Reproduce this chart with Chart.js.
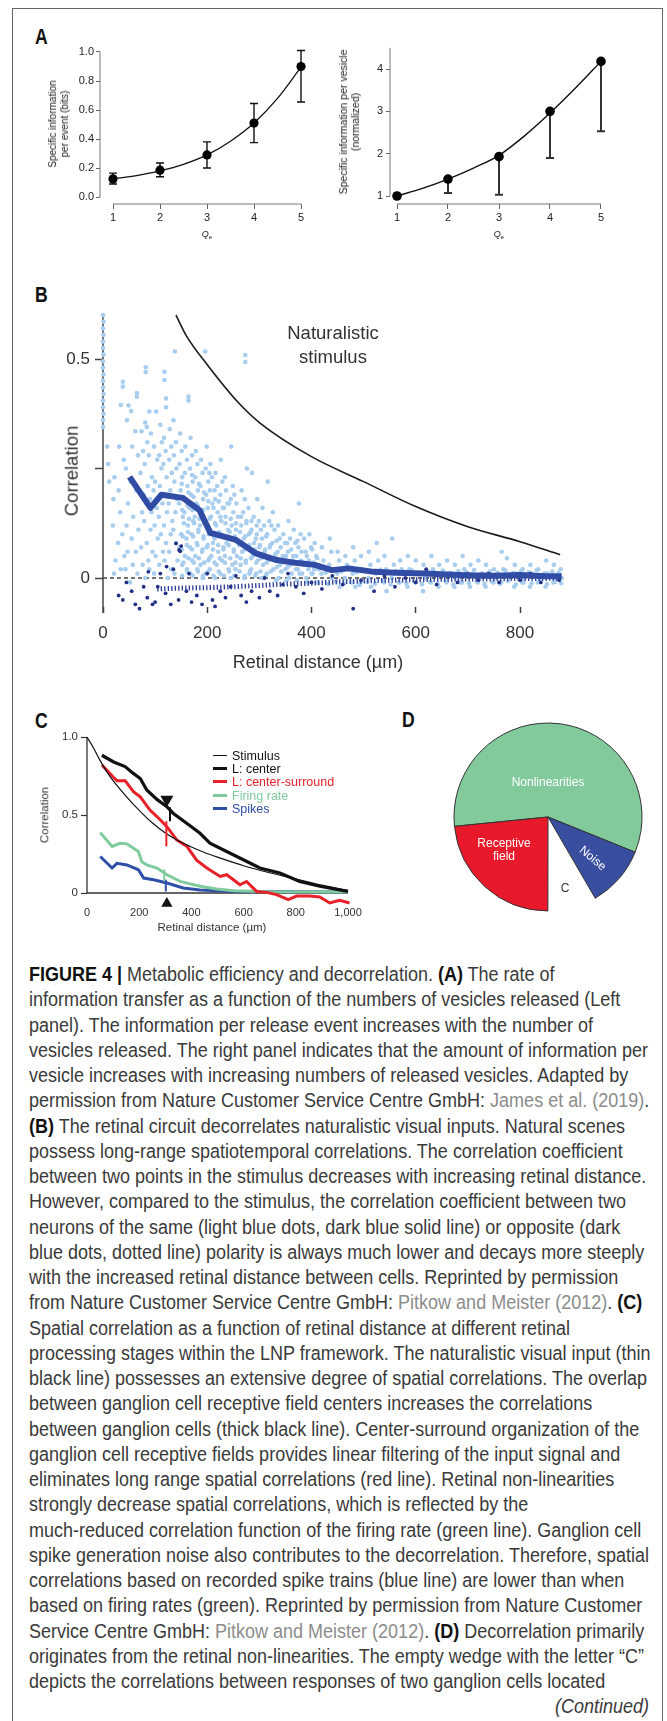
<!DOCTYPE html>
<html>
<head>
<meta charset="utf-8">
<script src="https://cdn.jsdelivr.net/npm/chart.js@4.4.1/dist/chart.umd.min.js"></script>
<style>
  body { margin: 0; background: #fff; }
  #page { position: relative; width: 667px; height: 1721px; overflow: hidden; font-family: "Liberation Sans", Arial, sans-serif; color: #222; }
  #page canvas { position: absolute; }
  .frame { position: absolute; left: 12px; top: 8px; width: 651px; height: 1760px; border: 1.5px solid #666; box-sizing: border-box; }
  .t { position: absolute; white-space: nowrap; line-height: 1; }
  .ctr { transform: translate(-50%, -50%); text-align: center; }
  .rot { transform: translate(-50%, -50%) rotate(-90deg); text-align: center; }
  .letter { position: absolute; font-family: "Liberation Sans", sans-serif; font-weight: bold; font-size: 22px; line-height: 1; color: #111; transform: scaleX(0.8); transform-origin: left top; }
  .leg { position: absolute; left: 213px; font-size: 12.5px; line-height: 1; white-space: nowrap; }
  .leg span.sw { display: inline-block; width: 14px; vertical-align: middle; margin-right: 5px; position: relative; top: -1px; }
  #caption { position: absolute; left: 29px; top: 962px; font-family: "Liberation Sans", sans-serif; font-size: 20px; line-height: 25.25px; color: #3a3a3a; white-space: nowrap; transform-origin: left top; }
  #caption b { color: #111; }
  .lk { color: #8c8c8c; }
</style>
</head>
<body>
<div id="page">
  <div class="frame"></div>

  <div class="letter" style="left:35px;top:26px;">A</div>
  <div class="letter" style="left:35px;top:284px;">B</div>
  <div class="letter" style="left:35px;top:710px;">C</div>
  <div class="letter" style="left:402px;top:709px;">D</div>

  <canvas id="aLeft"></canvas>
  <canvas id="aRight"></canvas>
  <canvas id="bChart"></canvas>
  <canvas id="cChart"></canvas>
  <canvas id="dChart"></canvas>

  <!-- panel A titles -->
  <div class="t rot" style="left:59px;top:124px;font-size:10px;line-height:12px;">Specific information<br>per event (bits)</div>
  <div class="t rot" style="left:349px;top:122px;font-size:10.5px;line-height:12px;">Specific information per vesicle<br>(normalized)</div>
  <div class="t ctr" style="left:207px;top:235px;font-size:9px;"><i>Q</i><sub style="font-size:6px">e</sub></div>
  <div class="t ctr" style="left:499px;top:235px;font-size:9px;"><i>Q</i><sub style="font-size:6px">e</sub></div>

  <!-- panel B titles -->
  <div class="t rot" style="left:72px;top:471px;font-size:18.5px;color:#333;">Correlation</div>
  <div class="t ctr" style="left:318px;top:662px;font-size:18px;color:#333;">Retinal distance (µm)</div>
  <div class="t ctr" style="left:333px;top:345px;font-size:18.5px;line-height:24px;color:#333;">Naturalistic<br>stimulus</div>

  <!-- panel C titles and legend -->
  <div class="t rot" style="left:45px;top:815px;font-size:11.5px;color:#333;">Correlation</div>
  <div class="t ctr" style="left:212px;top:928px;font-size:11.5px;color:#333;">Retinal distance (µm)</div>
  <div class="leg" style="top:750px;color:#111;"><span class="sw" style="border-top:1.5px solid #111"></span>Stimulus</div>
  <div class="leg" style="top:763px;color:#111;"><span class="sw" style="border-top:3px solid #111"></span>L: center</div>
  <div class="leg" style="top:776px;color:#e8202a;"><span class="sw" style="border-top:3px solid #e8202a"></span>L: center-surround</div>
  <div class="leg" style="top:790px;color:#7fcb9e;"><span class="sw" style="border-top:3px solid #7fcb9e"></span>Firing rate</div>
  <div class="leg" style="top:803px;color:#2f4ea8;"><span class="sw" style="border-top:3px solid #2f4ea8"></span>Spikes</div>

  <!-- panel D labels -->
  <div class="t ctr" style="left:548px;top:782px;font-size:12px;color:#fff;">Nonlinearities</div>
  <div class="t ctr" style="left:504px;top:850px;font-size:12px;line-height:13px;color:#fff;">Receptive<br>field</div>
  <div class="t" style="left:593px;top:858px;font-size:12px;color:#fff;transform:translate(-50%,-50%) rotate(40deg);">Noise</div>
  <div class="t ctr" style="left:565px;top:888px;font-size:12px;color:#333;">C</div>

  <div id="caption">
<div><b>FIGURE 4</b> <b>|</b> Metabolic efficiency and decorrelation. <b>(A)</b> The rate of</div>
<div>information transfer as a function of the numbers of vesicles released (Left</div>
<div>panel). The information per release event increases with the number of</div>
<div><span id="capRef">vesicles released. The right panel indicates that the amount of information per</span></div>
<div>vesicle increases with increasing numbers of released vesicles. Adapted by</div>
<div>permission from Nature Customer Service Centre GmbH: <span class="lk">James et al. (2019)</span>.</div>
<div><b>(B)</b> The retinal circuit decorrelates naturalistic visual inputs. Natural scenes</div>
<div>possess long-range spatiotemporal correlations. The correlation coefficient</div>
<div>between two points in the stimulus decreases with increasing retinal distance.</div>
<div>However, compared to the stimulus, the correlation coefficient between two</div>
<div>neurons of the same (light blue dots, dark blue solid line) or opposite (dark</div>
<div>blue dots, dotted line) polarity is always much lower and decays more steeply</div>
<div>with the increased retinal distance between cells. Reprinted by permission</div>
<div>from Nature Customer Service Centre GmbH: <span class="lk">Pitkow and Meister (2012)</span>. <b>(C)</b></div>
<div>Spatial correlation as a function of retinal distance at different retinal</div>
<div>processing stages within the LNP framework. The naturalistic visual input (thin</div>
<div>black line) possesses an extensive degree of spatial correlations. The overlap</div>
<div>between ganglion cell receptive field centers increases the correlations</div>
<div>between ganglion cells (thick black line). Center-surround organization of the</div>
<div>ganglion cell receptive fields provides linear filtering of the input signal and</div>
<div>eliminates long range spatial correlations (red line). Retinal non-linearities</div>
<div>strongly decrease spatial correlations, which is reflected by the</div>
<div>much-reduced correlation function of the firing rate (green line). Ganglion cell</div>
<div>spike generation noise also contributes to the decorrelation. Therefore, spatial</div>
<div>correlations based on recorded spike trains (blue line) are lower than when</div>
<div>based on firing rates (green). Reprinted by permission from Nature Customer</div>
<div>Service Centre GmbH: <span class="lk">Pitkow and Meister (2012)</span>. <b>(D)</b> Decorrelation primarily</div>
<div>originates from the retinal non-linearities. The empty wedge with the letter “C”</div>
<div>depicts the correlations between responses of two ganglion cells located</div>
<div id="capCont" style="text-align:right;width:620px;font-style:italic;">(Continued)</div>
  </div>
</div>

<script>
// ---- panel A: information vs number of released vesicles (Qe)
const qe = [1, 2, 3, 4, 5];
const infoEvent = [0.125, 0.185, 0.29, 0.51, 0.90];
const infoEventLow = [0.09, 0.14, 0.20, 0.375, 0.655];
const infoEventHigh = [0.165, 0.235, 0.38, 0.645, 1.01];
const fitQe = [1, 1.5, 2, 2.5, 3, 3.5, 4, 4.5, 5];
const fitEvent = [0.125, 0.148, 0.18, 0.225, 0.29, 0.385, 0.51, 0.68, 0.895];
const infoVesicle = [1.0, 1.4, 1.93, 3.0, 4.18];
const infoVesicleLow = [1.0, 1.07, 1.03, 1.9, 2.53];
const fitVesicle = [1.0, 1.18, 1.4, 1.66, 1.96, 2.42, 2.96, 3.55, 4.18];
const eventTicks = [0, 0.2, 0.4, 0.6, 0.8, 1.0];
const vesicleTicks = [1, 2, 3, 4];

// ---- panel B: correlation vs retinal distance (um)
const bDistTicks = [0, 200, 400, 600, 800];
const bCorrTicks = [0, 0.25, 0.5];
const stimDist = [140, 160, 200, 260, 300, 400, 500, 600, 700, 800, 877];
const stimCorr = [0.60, 0.553, 0.487, 0.40, 0.355, 0.277, 0.22, 0.163, 0.117, 0.083, 0.053];
const sameMeanDist = [51, 91, 112, 153, 185, 206, 255, 292, 333, 373, 406, 439, 471, 520, 560, 618, 660, 700, 750, 800, 850, 880];
const sameMean = [0.231, 0.16, 0.19, 0.183, 0.155, 0.103, 0.087, 0.057, 0.041, 0.034, 0.030, 0.018, 0.022, 0.014, 0.012, 0.010, 0.008, 0.006, 0.005, 0.007, 0.004, 0.004];
const oppMeanDist = [104, 150, 200, 250, 300, 350, 400, 450, 500, 550, 600, 650, 700, 750, 800, 850, 880];
const oppMean = [-0.025, -0.023, -0.022, -0.020, -0.017, -0.014, -0.012, -0.009, -0.007, -0.005, -0.004, -0.003, -0.002, -0.002, -0.001, -0.001, 0];
// light blue dots: same polarity pairs [distance, correlation]
const sameDots = [
  [0,.60],[1,.585],[0,.57],[1,.555],[0,.54],[0,.525],[1,.51],[0,.495],[0,.48],[1,.465],[0,.45],[0,.435],[1,.42],[0,.405],[0,.39],[1,.375],[0,.36],[0,.345],
  [8,.30],[12,.22],[10,.26],[20,.18],[22,.23],[19,.12],[24,.04],[21,.01],
  [30,.20],[33,.15],[29,.08],[31,.30],[34,.02],[38,.448],[38,.437],[40,.27],[37,.10],[41,.05],
  [34,.395],[46,.36],[44,.25],[48,.17],[45,.12],[47,.06],[43,.02],
  [49,.394],[54,.381],[56,.30],[53,.22],[58,.14],[55,.09],[57,.03],[52,-.01],
  [65,.422],[65,.414],[62,.335],[67,.28],[64,.20],[68,.11],[63,.06],[66,.01],
  [74,.335],[77,.29],[72,.24],[78,.19],[75,.15],[73,.07],[76,.03],
  [82,.481],[82,.47],[81,.355],[85,.31],[80,.26],[86,.21],[83,.17],[79,.13],[84,.08],[87,.04],[81,.00],
  [89,.38],[92,.33],[88,.28],[94,.23],[90,.18],[93,.15],[91,.11],[95,.06],[89,.02],
  [102,.38],[84,.345],[98,.30],[104,.27],[100,.22],[97,.20],[103,.16],[99,.12],[105,.09],[101,.05],[98,.01],
  [110,.35],[113,.31],[108,.28],[112,.25],[109,.21],[114,.17],[107,.14],[111,.10],[115,.06],[108,.03],
  [118,.471],[118,.452],[121,.41],[121,.39],[117,.32],[120,.29],[116,.26],[122,.23],[119,.19],[123,.15],[117,.12],[121,.08],[118,.04],[124,.00],
  [128,.34],[131,.30],[127,.27],[132,.24],[129,.20],[126,.17],[133,.13],[130,.10],[127,.06],[131,.02],
  [135,.36],[138,.517],[140,.31],[136,.28],[141,.25],[137,.22],[142,.18],[139,.15],[135,.11],[140,.08],[143,.04],[137,.01],
  [148,.33],[151,.29],[147,.26],[152,.23],[149,.20],[146,.17],[153,.14],[150,.10],[147,.07],[152,.03],
  [164,.414],[164,.405],[158,.30],[161,.27],[157,.24],[162,.21],[159,.18],[156,.15],[163,.12],[160,.09],[157,.05],[161,.02],
  [168,.32],[171,.28],[167,.25],[172,.22],[169,.19],[166,.16],[173,.13],[170,.10],[167,.07],[171,.04],[168,.01],
  [178,.29],[181,.26],[177,.23],[182,.20],[179,.17],[176,.14],[183,.11],[180,.08],[177,.05],[181,.02],
  [188,.27],[191,.24],[187,.21],[192,.18],[189,.15],[186,.12],[193,.09],[190,.06],[187,.03],[191,.00],
  [196,.517],[199,.30],[197,.25],[202,.22],[198,.19],[201,.16],[196,.13],[203,.10],[199,.07],[202,.04],[197,.01],
  [206,.26],[209,.23],[205,.20],[210,.17],[207,.14],[204,.11],[211,.08],[208,.05],[205,.02],
  [216,.24],[219,.21],[215,.18],[220,.15],[217,.12],[214,.09],[221,.06],[218,.03],[215,.00],
  [226,.27],[229,.22],[225,.19],[230,.16],[227,.13],[224,.10],[231,.07],[228,.04],[225,.01],
  [236,.20],[239,.17],[235,.14],[240,.11],[237,.08],[234,.05],[241,.02],
  [246,.30],[249,.21],[245,.18],[250,.15],[247,.12],[244,.09],[251,.06],[248,.03],[245,.00],
  [256,.17],[259,.14],[255,.11],[260,.08],[257,.05],[254,.02],
  [266,.20],[269,.15],[265,.12],[270,.09],[267,.06],[264,.03],[271,.00],[273,.509],[273,.493],
  [276,.25],[279,.16],[275,.13],[280,.10],[277,.07],[274,.04],[281,.01],
  [286,.24],[289,.14],[285,.11],[290,.08],[287,.05],[284,.02],
  [296,.18],[299,.13],[295,.10],[300,.07],[297,.04],[294,.01],
  [306,.16],[309,.12],[305,.09],[310,.06],[307,.03],[304,.00],
  [316,.22],[319,.13],[315,.10],[320,.07],[317,.04],[314,.01],
  [326,.15],[329,.11],[325,.08],[330,.05],[327,.02],
  [336,.12],[339,.09],[335,.06],[340,.03],[337,.00],
  [346,.10],[349,.08],[345,.05],[350,.02],
  [356,.13],[359,.09],[355,.06],[360,.03],[357,.00],
  [366,.11],[369,.08],[365,.05],[370,.02],
  [376,.17],[379,.10],[375,.07],[380,.04],[377,.01],
  [386,.09],[389,.06],[385,.03],[390,.00],
  [396,.10],[399,.07],[395,.04],[400,.01],
  [406,.08],[409,.05],[405,.02],[410,-.01],
  [420,.07],[423,.04],[419,.01],[435,.09],[438,.06],[434,.03],[439,.00],
  [450,.06],[453,.04],[449,.01],[454,-.02],[465,.05],[468,.03],[464,.00],
  [480,.07],[483,.04],[479,.01],[484,-.02],[495,.05],[498,.02],[494,-.01],
  [510,.06],[513,.03],[509,.00],[514,-.02],[525,.08],[528,.04],[524,.01],
  [540,.05],[543,.02],[539,-.01],[544,-.03],[555,.09],[558,.03],[554,.00],
  [570,.04],[573,.02],[569,-.01],[585,.05],[588,.02],[584,-.02],
  [600,.04],[603,.01],[599,-.01],[615,.03],[618,.00],[614,-.03],
  [630,.05],[633,.02],[629,-.01],[645,.03],[648,.01],[644,-.02],
  [660,.04],[663,.01],[659,-.01],[675,.03],[678,.00],[674,-.02],
  [690,.05],[693,.02],[689,-.01],[705,.03],[708,.01],[704,-.02],
  [720,.04],[723,.00],[719,-.01],[735,.03],[738,.01],[734,-.02],
  [750,.02],[753,.00],[749,-.01],[765,.06],[768,.02],[764,-.01],[775,.045],
  [790,.03],[793,.01],[789,-.02],[805,.02],[808,.00],[804,-.01],
  [820,.03],[823,.01],[819,-.02],[835,.02],[838,.00],[834,-.01],
  [850,.04],[853,.01],[849,-.02],[865,.03],[868,.00],[864,-.01],[878,.02],[880,.00]
];
// denser core of the same-polarity cloud and the band near zero
const sameDotsCore = [
  [152,.005],[154,.035],[151,.065],[153,.095],[155,.125],[152,.155],[154,.185],[151,.215],
  [162,.015],[164,.045],[161,.075],[163,.105],[165,.135],[162,.165],[164,.195],
  [172,.005],[174,.035],[171,.065],[173,.095],[175,.125],[172,.155],[174,.185],[171,.235],
  [182,.015],[184,.045],[181,.075],[183,.105],[185,.135],[182,.165],[184,.215],
  [192,.005],[194,.035],[191,.065],[193,.095],[195,.125],[192,.155],[194,.195],
  [202,.015],[204,.045],[201,.075],[203,.105],[205,.135],[202,.175],[204,.24],
  [212,.005],[214,.035],[211,.065],[213,.095],[215,.125],[212,.16],[214,.20],
  [222,.015],[224,.045],[221,.075],[223,.105],[225,.14],[222,.175],
  [232,.005],[234,.035],[231,.065],[233,.095],[235,.125],[232,.16],[234,.23],
  [242,.015],[244,.045],[241,.075],[243,.105],[245,.135],[242,.17],
  [252,.005],[254,.035],[251,.065],[253,.095],[255,.125],[252,.19],
  [262,.015],[264,.045],[261,.075],[263,.105],[265,.14],
  [272,.005],[274,.035],[271,.065],[273,.095],[275,.125],[272,.18],
  [282,.015],[284,.045],[281,.075],[283,.105],[285,.13],
  [292,.005],[294,.035],[291,.065],[293,.09],[295,.12],
  [302,.015],[304,.045],[301,.075],[303,.11],
  [312,.005],[314,.035],[311,.065],[313,.095],
  [322,.015],[324,.045],[321,.075],[323,.12],
  [332,-.005],[334,.025],[331,.055],[333,.085],
  [342,.015],[344,.04],[341,.07],
  [352,-.005],[354,.025],[351,.05],[353,.08],
  [362,.01],[364,.04],[361,.065],
  [372,-.005],[374,.02],[371,.05],[373,.085],
  [382,.01],[384,.035],[381,.06],
  [392,-.01],[394,.02],[391,.05],
  [402,.01],[404,.035],[401,.065],
  [412,-.01],[414,.02],[411,.045],
  [427,.012],[432,-.014],[442,.018],[447,-.008],[457,.015],[462,-.012],[472,.02],[477,-.01],
  [487,.013],[492,-.016],[502,.017],[507,-.009],[517,.014],[522,-.013],[532,.019],[537,-.007],
  [547,.012],[552,-.015],[562,.016],[567,-.01],[577,.013],[582,-.012],[592,.018],[597,-.008],
  [607,.011],[612,-.014],[622,.015],[627,-.009],[637,.012],[642,-.013],[652,.017],[657,-.007],
  [667,.012],[672,-.015],[682,.016],[687,-.01],[697,.013],[702,-.012],[712,.018],[717,-.008],
  [727,.011],[732,-.014],[742,.015],[747,-.009],[757,.012],[762,-.013],[772,.017],[777,-.007],
  [787,.012],[792,-.015],[802,.016],[807,-.01],[817,.013],[822,-.012],[832,.018],[837,-.008],
  [847,.011],[852,-.014],[862,.015],[867,-.009],[874,.012],[879,-.012]
];
// dark blue dots: opposite polarity pairs
const oppDots = [
  [30,-.04],[38,-.05],[45,-.01],[55,-.03],[62,-.06],[70,-.07],[78,-.02],[87,.014],[85,-.045],[95,-.06],
  [100,-.055],[105,-.02],[110,.01],[120,-.035],[122,.026],[130,-.06],[135,.02],[140,.079],[146,.064],[150,.073],
  [148,.061],[145,-.05],[160,-.03],[165,.01],[170,-.055],[180,-.04],[190,-.06],[200,.01],[210,-.05],[215,-.065],
  [225,-.03],[235,-.045],[245,-.02],[255,.005],[265,-.04],[275,-.055],[285,-.03],[300,-.045],[310,0],[320,-.03],
  [335,-.04],[345,-.015],[355,.01],[370,-.02],[385,-.035],[400,-.01],[420,-.025],[440,.005],[460,-.015],[480,-.07],
  [495,-.005],[520,-.03],[540,.005],[560,-.02],[580,0],[600,-.01],[620,.02],[640,-.015],[660,.005],[680,-.01],
  [700,.01],[720,-.005],[740,.01],[760,-.01],[780,.005],[800,-.005],[820,.01],[840,-.01],[860,.005],[875,-.005]
];

// ---- panel C: correlation at LNP stages
const cDistTicks = [0, 200, 400, 600, 800, 1000];
const cCorrTicks = [0, 0.5, 1.0];
const cStimDist = [0, 25, 50, 75, 100, 150, 200, 250, 300, 350, 400, 450, 500, 600, 700, 800, 900, 1000];
const cStim = [1.0, 0.93, 0.85, 0.78, 0.72, 0.62, 0.53, 0.45, 0.385, 0.335, 0.295, 0.26, 0.23, 0.175, 0.13, 0.09, 0.05, 0.015];
const centerDist = [57, 102, 146, 175, 204, 229, 268, 306, 331, 382, 433, 471, 535, 599, 662, 739, 815, 892, 1000];
const centerCorr = [0.883, 0.84, 0.81, 0.77, 0.734, 0.66, 0.60, 0.553, 0.51, 0.447, 0.383, 0.32, 0.266, 0.213, 0.16, 0.128, 0.074, 0.043, 0.01];
const surroundDist = [57, 80, 102, 115, 146, 178, 204, 242, 268, 306, 344, 382, 420, 459, 510, 535, 561, 586, 611, 650, 688, 726, 771, 803, 854, 892, 930, 968, 1006];
const surroundCorr = [0.82, 0.78, 0.74, 0.72, 0.72, 0.65, 0.617, 0.53, 0.49, 0.425, 0.34, 0.30, 0.21, 0.16, 0.106, 0.117, 0.085, 0.053, 0.074, 0.01, 0.004, -0.01, -0.043, -0.02, -0.02, -0.025, -0.064, -0.047, -0.064];
const rateDist = [51, 96, 127, 153, 178, 197, 210, 229, 268, 306, 357, 433, 497, 561, 688, 1000];
const rateCorr = [0.387, 0.298, 0.319, 0.315, 0.287, 0.266, 0.20, 0.18, 0.16, 0.117, 0.074, 0.043, 0.025, 0.015, 0.008, 0.006];
const spikeDist = [51, 96, 115, 153, 197, 217, 255, 306, 369, 433, 561, 1000];
const spikeCorr = [0.234, 0.16, 0.19, 0.18, 0.149, 0.096, 0.085, 0.064, 0.032, 0.02, 0.01, 0.006];
// short vertical marks at the correlation length (black, red, green, blue)
const markDist = [318, 304, 296, 302];
const markTop = [0.55, 0.46, 0.15, 0.085];
const markBottom = [0.46, 0.30, 0.075, 0.01];
const arrowDist = 306;
const arrowTop = 0.60;
const arrowBottom = -0.068;

// ---- panel D: sources of decorrelation (share of the circle, %)
const pieLabels = ['Nonlinearities', 'Noise', 'C', 'Receptive field'];
const pieShare = [57.7, 10.5, 8.4, 23.4];

// -------------------------------------------------------------------
Chart.defaults.font.family = "'Liberation Sans', Arial, sans-serif";
Chart.defaults.animation = false;
Chart.defaults.plugins.legend.display = false;
Chart.defaults.plugins.tooltip.enabled = false;
Chart.defaults.events = [];

// R-style axis lines that only span the ticks
const axisLines = {
  id: 'axisLines',
  beforeDatasetsDraw(chart, args, o) {
    if (!o || (!o.x && !o.y)) return;
    const { ctx, chartArea, scales: { x, y } } = chart;
    ctx.save();
    ctx.strokeStyle = o.color || '#555';
    ctx.lineWidth = o.width || 1;
    ctx.beginPath();
    if (o.x) {
      const py = o.xAt === undefined ? chartArea.bottom : y.getPixelForValue(o.xAt);
      ctx.moveTo(x.getPixelForValue(o.x[0]), py);
      ctx.lineTo(x.getPixelForValue(o.x[1]), py);
    }
    if (o.y) {
      ctx.moveTo(chartArea.left, y.getPixelForValue(o.y[0]));
      ctx.lineTo(chartArea.left, y.getPixelForValue(o.y[1]));
    }
    ctx.stroke();
    ctx.restore();
  }
};

const errorBars = {
  id: 'errorBars',
  beforeDatasetsDraw(chart, args, o) {
    if (!o || !o.x) return;
    const { ctx, scales: { x, y } } = chart;
    ctx.save();
    ctx.strokeStyle = o.color;
    ctx.lineWidth = o.width;
    o.x.forEach((v, i) => {
      const px = x.getPixelForValue(v);
      const lo = y.getPixelForValue(o.low[i]);
      const hi = y.getPixelForValue(o.high[i]);
      ctx.beginPath();
      ctx.moveTo(px, lo);
      ctx.lineTo(px, hi);
      if (o.capLow) { ctx.moveTo(px - o.cap, lo); ctx.lineTo(px + o.cap, lo); }
      if (o.capHigh) { ctx.moveTo(px - o.cap, hi); ctx.lineTo(px + o.cap, hi); }
      ctx.stroke();
    });
    ctx.restore();
  }
};
Chart.register(axisLines, errorBars);

// place a canvas so that its plot area lands on the given page box
const PAD = 30;
function frame(id, l, t, r, b, yW, xH) {
  const c = document.getElementById(id);
  c.width = r - l + yW + 2 * PAD;
  c.height = b - t + xH + 2 * PAD;
  c.style.left = (l - yW - PAD) + 'px';
  c.style.top = (t - PAD) + 'px';
  return c;
}
// value at pixel p on a linear axis given two reference ticks
const valAt = (v1, p1, v2, p2, p) => v1 + (p - p1) * (v2 - v1) / (p2 - p1);
const pts = (xs, ys) => xs.map((v, i) => ({ x: v, y: ys[i] }));

function axis(opts) {
  return {
    type: 'linear',
    min: opts.min,
    max: opts.max,
    afterFit: s => { if (s.isHorizontal()) s.height = opts.size; else s.width = opts.size; },
    afterBuildTicks: s => { s.ticks = opts.ticks.map(v => ({ value: v })); },
    border: { display: false },
    grid: {
      drawOnChartArea: false,
      drawTicks: opts.tickLength > 0,
      tickLength: opts.tickLength,
      tickColor: opts.color || '#555',
      tickWidth: opts.tickWidth || 1
    },
    ticks: {
      padding: opts.padding,
      color: opts.labelColor || '#222',
      font: { size: opts.font },
      autoSkip: false,
      maxRotation: 0,
      callback: opts.fmt
    }
  };
}

// ---- A left
{
  const l = 100, t = 40, r = 312, b = 204;
  new Chart(frame('aLeft', l, t, r, b, 40, 30), {
    type: 'scatter',
    data: {
      datasets: [
        { data: pts(qe, infoEvent), pointRadius: 4.6, pointBackgroundColor: '#000', pointBorderWidth: 0, order: 1, clip: false },
        { data: pts(fitQe, fitEvent), showLine: true, borderColor: '#111', borderWidth: 1.3, pointRadius: 0, cubicInterpolationMode: 'monotone', order: 2, clip: false }
      ]
    },
    options: {
      responsive: false,
      layout: { padding: PAD },
      scales: {
        x: axis({ min: valAt(1, 113, 5, 301, l), max: valAt(1, 113, 5, 301, r), ticks: qe, size: 30, tickLength: 5, padding: 2, font: 11, color: '#666' }),
        y: axis({ min: valAt(0, 197, 1, 52, b), max: valAt(0, 197, 1, 52, t), ticks: eventTicks, size: 40, tickLength: 4, padding: 2, font: 11, color: '#666', fmt: v => v.toFixed(1) })
      },
      plugins: {
        axisLines: { x: [1, 5], y: [0, 1], color: '#777', width: 1 },
        errorBars: { x: qe, low: infoEventLow, high: infoEventHigh, color: '#111', width: 1.4, cap: 4, capLow: true, capHigh: true }
      }
    }
  });
}

// ---- A right
{
  const l = 390, t = 40, r = 612, b = 204;
  new Chart(frame('aRight', l, t, r, b, 40, 30), {
    type: 'scatter',
    data: {
      datasets: [
        { data: pts(qe, infoVesicle), pointRadius: 4.8, pointBackgroundColor: '#000', pointBorderWidth: 0, order: 1, clip: false },
        { data: pts(fitQe, fitVesicle), showLine: true, borderColor: '#111', borderWidth: 1.4, pointRadius: 0, cubicInterpolationMode: 'monotone', order: 2, clip: false }
      ]
    },
    options: {
      responsive: false,
      layout: { padding: PAD },
      scales: {
        x: axis({ min: valAt(1, 397, 5, 601, l), max: valAt(1, 397, 5, 601, r), ticks: qe, size: 30, tickLength: 5, padding: 2, font: 11, color: '#666' }),
        y: axis({ min: valAt(1, 196, 4, 69, b), max: valAt(1, 196, 4, 69, t), ticks: vesicleTicks, size: 40, tickLength: 4, padding: 3, font: 11, color: '#666' })
      },
      plugins: {
        axisLines: { x: [1, 5], y: [1, 4.5], color: '#777', width: 1 },
        errorBars: { x: qe, low: infoVesicleLow, high: infoVesicle, color: '#333', width: 2, cap: 4, capLow: true, capHigh: false }
      }
    }
  });
}

// ---- B
{
  const l = 103, t = 300, r = 565, b = 607;
  const lightBlue = '#a8cdee';
  new Chart(frame('bChart', l, t, r, b, 40, 40), {
    type: 'scatter',
    data: {
      datasets: [
        { data: [{ x: 0, y: 0 }, { x: 880, y: 0 }], showLine: true, borderColor: '#444', borderWidth: 1.3, borderDash: [4, 3], pointRadius: 0, order: 7, clip: false },
        { data: sameDots.map(([x, y]) => ({ x, y })), pointRadius: 2.3, pointBackgroundColor: lightBlue, pointBorderWidth: 0, order: 6, clip: false },
        { data: sameDotsCore.map(([x, y]) => ({ x, y })), pointRadius: 2.3, pointBackgroundColor: lightBlue, pointBorderWidth: 0, order: 5, clip: false },
        { data: oppDots.map(([x, y]) => ({ x, y })), pointRadius: 1.9, pointBackgroundColor: '#232f86', pointBorderWidth: 0, order: 4, clip: false },
        { data: pts(oppMeanDist, oppMean), showLine: true, borderColor: '#2c3d97', borderWidth: 5, borderDash: [1.3, 2.2], pointRadius: 0, order: 3, clip: false },
        { data: pts(sameMeanDist, sameMean), showLine: true, borderColor: '#304ca5', borderWidth: 6, borderJoinStyle: 'round', pointRadius: 0, order: 2, clip: false },
        { data: pts(stimDist, stimCorr), showLine: true, borderColor: '#1a1a1a', borderWidth: 1.6, pointRadius: 0, cubicInterpolationMode: 'monotone', order: 1, clip: false }
      ]
    },
    options: {
      responsive: false,
      layout: { padding: PAD },
      scales: {
        x: axis({ min: 0, max: valAt(0, 103, 800, 520, r), ticks: bDistTicks, size: 40, tickLength: 6, tickWidth: 1.5, padding: 10, font: 17, color: '#444', labelColor: '#333' }),
        y: axis({ min: valAt(0, 578, 0.5, 359, b), max: valAt(0, 578, 0.5, 359, t), ticks: bCorrTicks, size: 40, tickLength: 8, tickWidth: 1.5, padding: 5, font: 17, color: '#444', labelColor: '#333', fmt: v => (v === 0.25 ? '' : String(v)) })
      },
      plugins: {
        axisLines: { y: [valAt(0, 578, 0.5, 359, 613), 0.6], color: '#444', width: 1.5 }
      }
    }
  });
}

// ---- C
{
  const l = 87, t = 730, r = 348, b = 904;
  const markSets = markDist.map((d, i) => ({
    data: [{ x: d, y: markTop[i] }, { x: d, y: markBottom[i] }],
    showLine: true, borderColor: ['#111', '#e8202a', '#7fcb9e', '#2f4ea8'][i], borderWidth: 2, pointRadius: 0, order: 0, clip: false
  }));
  new Chart(frame('cChart', l, t, r, b, 40, 25), {
    type: 'scatter',
    data: {
      datasets: [
        { data: pts(spikeDist, spikeCorr), showLine: true, borderColor: '#2f4ea8', borderWidth: 3, pointRadius: 0, order: 5, clip: false },
        { data: pts(rateDist, rateCorr), showLine: true, borderColor: '#7fcb9e', borderWidth: 3, pointRadius: 0, order: 4, clip: false },
        { data: pts(surroundDist, surroundCorr), showLine: true, borderColor: '#e8202a', borderWidth: 3, pointRadius: 0, order: 3, clip: false },
        { data: pts(cStimDist, cStim), showLine: true, borderColor: '#111', borderWidth: 1.2, pointRadius: 0, cubicInterpolationMode: 'monotone', order: 2, clip: false },
        { data: pts(centerDist, centerCorr), showLine: true, borderColor: '#111', borderWidth: 3.2, pointRadius: 0, order: 1, clip: false },
        ...markSets,
        { data: [{ x: arrowDist, y: arrowTop }], pointStyle: 'triangle', rotation: 180, pointRadius: 7.5, pointBackgroundColor: '#111', pointBorderWidth: 0, order: 0, clip: false },
        { data: [{ x: arrowDist, y: arrowBottom }], pointStyle: 'triangle', rotation: 0, pointRadius: 6.5, pointBackgroundColor: '#111', pointBorderWidth: 0, order: 0, clip: false }
      ]
    },
    options: {
      responsive: false,
      layout: { padding: PAD },
      scales: {
        x: axis({ min: 0, max: 1000, ticks: cDistTicks, size: 25, tickLength: 0, padding: 2, font: 11, color: '#333', labelColor: '#333', fmt: v => v.toLocaleString('en-US') }),
        y: axis({ min: valAt(0, 893, 1, 737, b), max: valAt(0, 893, 1, 737, t), ticks: cCorrTicks, size: 40, tickLength: 6, tickWidth: 1.2, padding: 3, font: 11.5, color: '#333', labelColor: '#333', fmt: v => (v === 0 ? '0' : v.toFixed(1)) })
      },
      plugins: {
        axisLines: { x: [0, 1000], xAt: 0, y: [0, 1], color: '#333', width: 1.3 }
      }
    }
  });
}

// ---- D
{
  const c = document.getElementById('dChart');
  c.width = 220; c.height = 220;
  c.style.left = (548 - 110) + 'px';
  c.style.top = (817 - 110) + 'px';
  new Chart(c, {
    type: 'pie',
    data: {
      labels: pieLabels,
      datasets: [{
        data: pieShare,
        backgroundColor: ['#82c99c', '#3a4ea0', 'rgba(0,0,0,0)', '#e8192a'],
        borderColor: ['#333', '#333', 'rgba(0,0,0,0)', '#333'],
        borderWidth: [1, 1, 0, 1],
        hoverOffset: 0,
        offset: 0
      }]
    },
    options: {
      responsive: false,
      rotation: -95.7,
      radius: 94,
      layout: { padding: 0 }
    }
  });
}

// squeeze the caption to the narrow face of the original
{
  const cap = document.getElementById('caption');
  const w = document.getElementById('capRef').getBoundingClientRect().width;
  const s = 619 / w;
  cap.style.transform = 'scaleX(' + s + ')';
  document.getElementById('capCont').style.width = (620 / s) + 'px';
}
</script>
</body>
</html>
